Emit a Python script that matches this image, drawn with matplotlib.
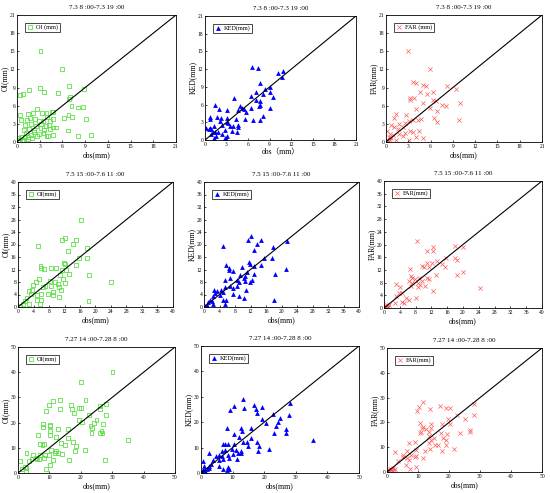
import numpy as np
import matplotlib.pyplot as plt

plt.rcParams['font.family'] = ['Liberation Serif', 'Noto Sans CJK SC']

titles = ['7.3 8 :00-7.3 19 :00', '7.5 15 :00-7.6 11 :00', '7.27 14 :00-7.28 8 :00']
limits = [21, 40, 50]
steps = [3, 4, 10]

# ---- 7.3 event ----
oi_73 = [(3.1, 15), (6.0, 12), (0.4, 7.8), (0.8, 8), (1.6, 8.6), (3.0, 8.9), (3.6, 8.2), (5.4, 8.1),
         (6.9, 9.2), (8.8, 8.8), (7.0, 7.4), (6.9, 7.1), (7.2, 6), (8.7, 5.8), (8.0, 5.7), (6.8, 4.4),
         (6.2, 3.9), (7.3, 4.1), (9.1, 3.8), (0.4, 4.5), (0.5, 3.6), (1.4, 4.7), (2.1, 4.8), (2.7, 5.4),
         (3.3, 4.8), (3.9, 4.8), (4.6, 5.0), (4.8, 5.0), (1.3, 3.6), (1.7, 3.9), (2.4, 3.8), (2.9, 3.5),
         (3.5, 3.5), (4.0, 4.2), (4.3, 3.5), (4.7, 3.8), (1.0, 2.8), (1.9, 3.0), (2.5, 2.6), (3.2, 2.9),
         (3.8, 2.7), (4.2, 2.8), (4.8, 2.4), (5.2, 2.4), (0.9, 2.0), (1.6, 2.2), (2.2, 2.0), (3.1, 2.3),
         (3.6, 2.0), (4.4, 2.2), (1.2, 1.5), (2.3, 1.7), (2.9, 1.3), (3.5, 1.5), (4.1, 1.0), (4.7, 1.1),
         (3.9, 1.0), (6.7, 1.9), (8.0, 1.0), (9.8, 1.2), (0.2, 0.6), (0.5, 0.9), (0.8, 0.4), (1.1, 0.8),
         (1.5, 0.9), (1.9, 1.1), (0.3, 0.2), (0.6, 0.1), (0.9, 0.3), (1.4, 0.5), (2.0, 0.7), (2.7, 1.0),
         (0.1, 0.1), (0.2, 0.3), (0.1, 0.6)]
ked_73 = [(6.5, 12.3), (7.4, 12.2), (10.1, 11.3), (10.8, 11.7), (10.7, 10.6), (7.7, 9.7), (9.1, 9.0),
          (8.4, 8.7), (7.1, 8.2), (9.0, 8.1), (8.1, 7.8), (9.4, 7.3), (6.4, 7.4), (4.0, 7.1), (4.8, 5.8),
          (7.7, 6.6), (7.7, 6.0), (7.1, 6.7), (7.5, 5.7), (6.4, 5.4), (9.0, 5.4), (5.4, 5.3), (4.6, 5.1),
          (5.7, 4.7), (5.2, 5.4), (8.1, 4.1), (6.7, 3.4), (7.7, 3.4), (5.5, 3.5), (4.3, 3.5), (1.4, 6.0),
          (2.0, 5.3), (3.0, 5.1), (0.7, 3.9), (0.7, 3.6), (1.6, 3.9), (2.2, 3.8), (2.1, 3.3), (3.0, 3.8),
          (3.1, 3.1), (3.2, 2.8), (3.5, 2.4), (3.9, 2.4), (4.6, 2.2), (4.6, 2.6), (0.7, 2.1), (0.9, 1.9),
          (1.2, 2.4), (1.1, 1.4), (1.4, 1.4), (1.8, 1.3), (2.3, 1.1), (2.8, 1.7), (3.7, 1.5), (4.4, 1.3),
          (1.2, 0.4), (1.5, 0.7), (2.8, 0.3), (3.1, 0.7), (0.2, 2.1), (0.5, 1.8), (0.9, 1.0), (2.4, 2.6)]
far_73 = [(2.9, 15.0), (5.9, 12.0), (3.6, 10.0), (4.0, 9.8), (5.0, 9.4), (5.4, 9.2), (8.2, 9.2), (9.4, 8.7),
          (3.2, 7.3), (3.2, 6.9), (3.8, 7.3), (5.5, 8.0), (6.3, 8.3), (4.6, 8.2), (5.0, 6.5), (6.3, 7.0),
          (6.7, 6.8), (5.9, 5.7), (7.5, 6.2), (8.1, 6.0), (10.0, 6.5), (6.9, 5.2), (4.1, 5.4), (6.5, 3.9),
          (6.8, 3.3), (9.8, 3.6), (1.4, 4.6), (1.1, 4.0), (2.7, 4.4), (3.1, 3.5), (3.6, 3.7), (4.3, 3.6),
          (4.7, 3.8), (1.8, 2.9), (2.3, 2.5), (2.5, 3.1), (1.1, 2.4), (1.6, 2.2), (3.2, 1.9), (3.6, 1.7),
          (4.5, 1.9), (4.0, 0.9), (5.0, 0.6), (0.7, 2.8), (0.1, 1.9), (0.5, 1.4), (0.4, 0.8), (0.7, 0.6),
          (0.9, 1.1), (1.8, 1.3), (2.3, 1.0), (2.5, 1.5), (3.1, 0.4), (0.2, 0.3), (0.1, 0.4), (0.5, 0.3),
          (1.4, 0.3)]

# ---- 7.5 event ----
oi_75 = [(16.2, 27.9), (12.2, 22.2), (11.4, 21.3), (14.9, 21.3), (14.1, 20.1), (5.2, 19.4), (13.0, 17.9),
         (17.7, 18.9), (15.8, 15.8), (17.7, 15.6), (11.9, 14.1), (12.2, 13.7), (14.9, 13.4), (5.8, 13.0),
         (6.0, 12.6), (8.6, 12.6), (9.9, 12.6), (6.6, 12.3), (11.4, 11.9), (12.3, 11.7), (18.4, 10.3),
         (13.1, 10.5), (10.8, 10.1), (11.6, 9.1), (5.4, 8.9), (8.2, 8.3), (9.5, 8.0), (12.2, 7.8),
         (24.1, 8.0), (4.6, 8.0), (3.9, 6.9), (6.5, 6.4), (8.6, 6.6), (10.6, 6.4), (9.1, 4.8), (11.2, 5.3),
         (7.8, 4.3), (9.1, 3.7), (10.6, 3.2), (2.8, 5.1), (3.3, 4.3), (2.2, 3.0), (5.0, 3.7), (5.9, 4.3),
         (5.0, 2.1), (6.0, 2.3), (5.6, 1.1), (1.7, 1.9), (2.8, 1.1), (1.3, 0.9), (0.6, 0.4), (18.2, 1.9),
         (7.1, 6.6), (10.4, 7.5), (3.7, 5.3)]
ked_75 = [(12.2, 22.6), (11.3, 21.5), (14.7, 21.5), (21.4, 21.2), (13.8, 20.3), (5.0, 19.6), (17.8, 19.1),
          (12.9, 18.1), (15.6, 15.8), (17.5, 15.6), (11.6, 14.3), (11.9, 13.9), (14.7, 13.5), (5.7, 13.4),
          (6.4, 12.5), (9.7, 12.8), (12.9, 13.0), (6.5, 11.7), (7.4, 11.4), (21.2, 12.2), (11.0, 11.2),
          (18.4, 10.6), (12.8, 10.6), (9.3, 10.3), (10.7, 10.0), (10.4, 9.3), (5.3, 8.7), (8.4, 8.5),
          (6.7, 9.3), (9.1, 7.9), (10.6, 8.2), (11.9, 7.9), (12.3, 8.5), (6.7, 6.8), (8.4, 6.8), (7.6, 6.1),
          (5.4, 6.4), (4.4, 5.5), (10.8, 5.3), (7.6, 4.3), (9.0, 3.6), (10.2, 2.9), (4.8, 2.3), (5.7, 2.3),
          (5.5, 1.1), (18.1, 2.1), (2.6, 5.5), (2.8, 4.5), (3.3, 5.0), (2.2, 3.4), (4.0, 3.9), (1.6, 2.3),
          (2.0, 1.8), (1.1, 1.5), (0.7, 0.7), (0.3, 0.4), (2.4, 1.1), (5.0, 4.7)]
far_75 = [(8.3, 21.2), (12.3, 19.1), (11.0, 18.0), (12.5, 18.0), (18.1, 19.5), (19.9, 19.1), (13.4, 14.9),
          (15.7, 15.6), (18.1, 15.6), (18.6, 15.1), (11.0, 14.2), (12.1, 14.2), (14.8, 13.8), (15.5, 13.0),
          (9.6, 13.2), (10.2, 12.8), (11.3, 12.8), (6.6, 12.4), (13.1, 10.4), (18.6, 10.4), (19.9, 11.3),
          (6.8, 10.1), (7.2, 9.6), (8.9, 9.3), (10.8, 9.6), (11.3, 9.2), (7.9, 9.0), (9.6, 8.6), (6.4, 8.6),
          (7.2, 8.0), (8.5, 8.0), (9.2, 7.4), (10.4, 6.9), (8.5, 6.5), (3.1, 7.7), (6.8, 6.9), (4.1, 6.7),
          (12.3, 5.3), (24.2, 6.2), (3.8, 4.6), (4.5, 4.8), (3.0, 3.8), (5.5, 3.0), (6.3, 2.5), (8.2, 3.1),
          (2.8, 1.7), (4.5, 2.0), (5.1, 1.5), (1.1, 0.4), (0.6, 0.2), (0.8, 0.9), (0.4, 0.6), (1.3, 0.8),
          (0.3, 0.3)]

# ---- 7.27 event ----
oi_727 = [(30.1, 40.1), (20.2, 36.1), (13.3, 29.1), (11.2, 28.4), (21.5, 28.8), (9.9, 26.9), (16.8, 26.9),
          (17.3, 25.5), (19.3, 25.8), (20.2, 25.8), (13.5, 25.4), (9.0, 24.7), (26.1, 25.5), (27.9, 27.4),
          (26.1, 26.5), (17.8, 23.8), (22.7, 22.9), (27.9, 22.9), (8.0, 19.4), (10.3, 19.2), (8.0, 18.1),
          (10.3, 18.5), (19.3, 21.2), (20.5, 20.1), (25.0, 21.2), (24.1, 19.8), (27.1, 19.6), (23.1, 18.5),
          (23.7, 17.9), (12.8, 17.6), (15.9, 17.6), (23.4, 15.9), (26.0, 15.9), (26.9, 15.9), (10.1, 16.5),
          (10.3, 15.2), (26.6, 16.7), (6.4, 15.0), (12.0, 14.2), (15.9, 13.9), (13.8, 11.9), (17.5, 12.2),
          (6.9, 11.5), (8.3, 11.5), (7.8, 11.2), (15.0, 11.0), (18.4, 10.6), (10.4, 9.3), (12.2, 8.6),
          (18.1, 8.6), (21.3, 9.3), (11.7, 7.9), (12.8, 7.9), (14.1, 7.5), (2.7, 7.9), (4.8, 7.0),
          (6.9, 7.0), (8.5, 7.0), (9.9, 7.3), (5.6, 6.0), (4.3, 5.7), (6.7, 5.7), (8.2, 6.0), (11.2, 5.3),
          (16.2, 5.3), (27.7, 5.3), (35.1, 13.0), (6.1, 5.6), (2.1, 2.2), (2.7, 2.0), (1.4, 1.6), (2.4, 0.9),
          (0.5, 4.6), (9.0, 1.7), (10.1, 3.3), (3.5, 4.6)]
ked_727 = [(13.2, 29.1), (10.3, 26.4), (16.9, 26.8), (9.3, 24.7), (13.5, 25.5), (19.3, 25.8), (17.5, 25.2),
           (17.7, 23.5), (28.3, 27.4), (22.8, 23.1), (28.0, 22.8), (24.9, 21.5), (19.4, 21.3), (20.7, 19.8),
           (24.4, 20.0), (8.2, 17.9), (12.7, 17.9), (15.9, 17.6), (23.6, 18.5), (23.0, 15.7), (26.8, 17.4),
           (27.0, 15.9), (13.0, 16.6), (10.3, 15.3), (12.0, 14.0), (15.9, 13.7), (17.7, 12.4), (35.3, 13.1),
           (13.2, 12.1), (14.5, 12.4), (6.9, 11.4), (7.7, 11.5), (8.7, 11.5), (10.5, 11.4), (14.8, 10.8),
           (18.3, 10.7), (9.9, 9.5), (11.1, 9.1), (12.7, 8.7), (18.0, 8.5), (21.5, 9.5), (7.7, 9.1),
           (6.7, 8.7), (11.7, 8.0), (12.7, 7.8), (5.8, 7.2), (8.5, 7.2), (10.1, 7.4), (2.4, 7.8), (4.6, 6.8),
           (6.7, 6.5), (9.0, 6.1), (11.4, 5.5), (5.6, 5.1), (3.9, 5.2), (6.9, 5.6), (5.6, 2.6), (7.1, 1.6),
           (8.3, 1.0), (9.0, 1.6), (8.5, 2.2), (0.5, 4.6), (1.1, 2.6), (0.7, 1.3), (1.4, 0.9), (1.8, 1.7),
           (2.4, 2.0), (0.3, 0.7), (2.6, 2.6), (1.1, 0.7), (3.2, 3.5)]
far_727 = [(11.6, 28.3), (17.2, 26.7), (10.3, 26.2), (13.8, 25.4), (19.1, 25.7), (20.2, 25.9), (9.7, 24.6),
           (28.0, 27.3), (22.6, 23.0), (28.0, 23.0), (10.5, 19.7), (14.1, 19.3), (19.7, 21.3), (17.9, 19.5),
           (20.2, 19.3), (25.1, 21.3), (11.6, 18.0), (11.4, 17.6), (12.7, 17.4), (14.3, 17.6), (10.5, 15.6),
           (11.1, 16.0), (13.4, 16.0), (17.5, 15.6), (19.5, 15.4), (23.4, 15.6), (26.7, 17.0), (26.9, 16.0),
           (13.4, 14.6), (15.2, 13.9), (18.1, 13.9), (14.1, 13.0), (18.9, 13.0), (7.0, 11.6), (8.9, 12.0),
           (13.4, 11.6), (15.4, 11.0), (16.5, 10.7), (19.0, 10.7), (12.2, 8.6), (13.8, 9.4), (9.5, 9.0),
           (17.8, 8.6), (21.5, 9.4), (6.5, 8.6), (2.7, 7.9), (5.0, 7.0), (7.8, 7.0), (9.5, 6.6), (5.2, 5.9),
           (6.6, 5.6), (8.9, 5.9), (11.6, 5.6), (7.1, 4.9), (3.6, 4.3), (6.0, 2.7), (9.2, 1.9), (7.3, 1.2),
           (0.3, 0.5), (0.6, 0.9), (1.1, 0.3), (1.4, 1.3), (1.9, 1.6), (2.2, 0.8), (0.9, 1.3), (0.1, 0.1),
           (1.6, 0.5), (2.5, 1.2)]

data = [[oi_73, ked_73, far_73], [oi_75, ked_75, far_75], [oi_727, ked_727, far_727]]

ylabels = ['OI(mm)', 'KED(mm)', 'FAR(mm)']
legend_labels = [['OI (mm)', 'KED(mm)', 'FAR (mm)'],
                 ['OI(mm)', 'KED(mm)', 'FAR(mm)'],
                 ['OI(mm)', 'KED(mm)', 'FAR(mm)']]
xlabels = [['obs(mm)', 'obs（mm）', 'obs(mm)'],
           ['obs(mm)', 'obs(mm)', 'obs(mm)'],
           ['obs(mm)', 'obs(mm)', 'obs(mm)']]

# axes boxes in pixels: left, right, top, bottom
boxes = [[(17, 176, 15, 142), (205, 356, 16, 140), (386, 542, 15, 142)],
         [(18, 173, 182, 307), (204, 359, 182, 307), (384, 542, 181, 308)],
         [(18, 175, 347, 473), (201, 359, 346, 473), (387, 542, 348, 472)]]

W, H = 550, 493
fig = plt.figure(figsize=(W / 100, H / 100), dpi=100)

for r in range(3):
    for c in range(3):
        l, rr, t, b = boxes[r][c]
        ax = fig.add_axes([l / W, 1 - b / H, (rr - l) / W, (b - t) / H])
        pts = np.array(data[r][c])
        lim = limits[r]
        if c == 0:
            ax.scatter(pts[:, 0], pts[:, 1], marker='s', s=8, facecolors='none',
                       edgecolors='#5ee04a', linewidths=0.6, label=legend_labels[r][c])
        elif c == 1:
            ax.scatter(pts[:, 0], pts[:, 1], marker='^', s=12, color='#0000ff',
                       linewidths=0, label=legend_labels[r][c])
        else:
            ax.scatter(pts[:, 0], pts[:, 1], marker='x', s=9, color='#ff5a5a',
                       linewidths=0.5, label=legend_labels[r][c])
        ax.plot([0, lim], [0, lim], color='black', lw=0.8)
        ax.set_xlim(0, lim)
        ax.set_ylim(0, lim)
        ticks = np.arange(0, lim + 0.1, steps[r])
        ax.set_xticks(ticks)
        ax.set_yticks(ticks)
        ax.tick_params(labelsize=4, length=1.5, width=0.5, pad=1.2, direction='in')
        for sp in ax.spines.values():
            sp.set_linewidth(0.6)
        ax.set_title(titles[r], fontsize=5, pad=4)
        ax.set_xlabel(xlabels[r][c], fontsize=5.5, labelpad=1.5)
        ax.set_ylabel(ylabels[c], fontsize=5.5, labelpad=0.5)
        leg = ax.legend(loc='upper left', fontsize=4.5, frameon=True, fancybox=False,
                        edgecolor='black', framealpha=1, borderpad=0.3, handletextpad=0.3,
                        handlelength=1.2, borderaxespad=1.2)
        leg.get_frame().set_linewidth(0.5)

fig.savefig('out.png', dpi=100)
